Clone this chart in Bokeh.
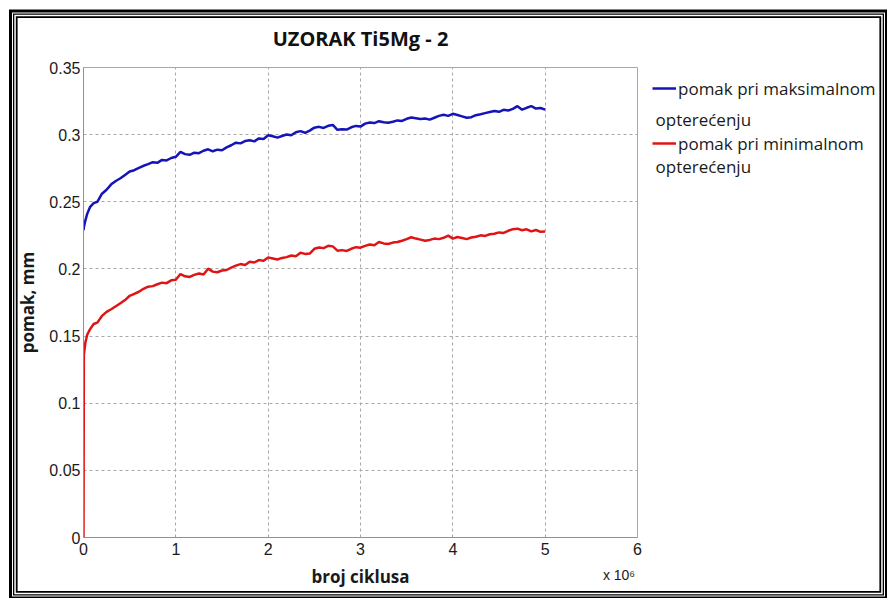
from bokeh.plotting import figure
from bokeh.layouts import row
from bokeh.models import Range1d, FixedTicker, LinearAxis, Legend, LegendItem, Label
from bokeh.embed import file_html
from bokeh.resources import INLINE

# ---------------- data ----------------
cycles_e6 = [0.0, 0.004, 0.02, 0.04, 0.07, 0.11, 0.15, 0.20, 0.25,
             0.30, 0.35, 0.40, 0.45, 0.50, 0.55, 0.60, 0.65, 0.70, 0.75,
             0.80, 0.85, 0.90, 0.95, 1.00, 1.05, 1.10, 1.15, 1.20, 1.25,
             1.30, 1.35, 1.40, 1.45, 1.50, 1.55, 1.60, 1.65, 1.70, 1.75,
             1.80, 1.85, 1.90, 1.95, 2.00, 2.05, 2.10, 2.15, 2.20, 2.25,
             2.30, 2.35, 2.40, 2.45, 2.50, 2.55, 2.60, 2.65, 2.70, 2.75,
             2.80, 2.85, 2.90, 2.95, 3.00, 3.05, 3.10, 3.15, 3.20, 3.25,
             3.30, 3.35, 3.40, 3.45, 3.50, 3.55, 3.60, 3.65, 3.70, 3.75,
             3.80, 3.85, 3.90, 3.95, 4.00, 4.05, 4.10, 4.15, 4.20, 4.25,
             4.30, 4.35, 4.40, 4.45, 4.50, 4.55, 4.60, 4.65, 4.70, 4.75,
             4.80, 4.85, 4.90, 4.95, 5.00]

pomak_max = [0.229, 0.231, 0.236, 0.241, 0.246, 0.249, 0.250, 0.256, 0.259,
             0.2630, 0.2655, 0.2675, 0.2700, 0.2725, 0.2735, 0.2752, 0.2768, 0.2780, 0.2795,
             0.2790, 0.2812, 0.2808, 0.2826, 0.2835, 0.2872, 0.2855, 0.2850, 0.2866, 0.2862,
             0.2880, 0.2891, 0.2876, 0.2888, 0.2884, 0.2905, 0.2921, 0.2940, 0.2935, 0.2952,
             0.2958, 0.2950, 0.2972, 0.2968, 0.2995, 0.2988, 0.2978, 0.2990, 0.3001, 0.2995,
             0.3018, 0.3026, 0.3014, 0.3030, 0.3052, 0.3058, 0.3050, 0.3066, 0.3072, 0.3036,
             0.3040, 0.3038, 0.3055, 0.3065, 0.3060, 0.3082, 0.3090, 0.3086, 0.3100, 0.3092,
             0.3088, 0.3096, 0.3106, 0.3102, 0.3118, 0.3128, 0.3122, 0.3116, 0.3120, 0.3112,
             0.3126, 0.3140, 0.3148, 0.3140, 0.3155, 0.3146, 0.3136, 0.3126, 0.3130, 0.3145,
             0.3152, 0.3160, 0.3168, 0.3176, 0.3170, 0.3185, 0.3180, 0.3192, 0.3212, 0.3186,
             0.3200, 0.3212, 0.3194, 0.3198, 0.3186]

pomak_min = [0.000, 0.136, 0.145, 0.151, 0.155, 0.159, 0.160, 0.165, 0.168,
             0.1700, 0.1722, 0.1745, 0.1768, 0.1800, 0.1815, 0.1830, 0.1852, 0.1868, 0.1872,
             0.1886, 0.1898, 0.1894, 0.1915, 0.1920, 0.1962, 0.1945, 0.1940, 0.1956, 0.1966,
             0.1958, 0.2002, 0.1980, 0.1975, 0.1988, 0.1992, 0.2010, 0.2025, 0.2036, 0.2030,
             0.2054, 0.2048, 0.2066, 0.2060, 0.2086, 0.2078, 0.2070, 0.2082, 0.2088, 0.2100,
             0.2094, 0.2120, 0.2112, 0.2114, 0.2150, 0.2160, 0.2155, 0.2172, 0.2168, 0.2136,
             0.2140, 0.2134, 0.2150, 0.2162, 0.2158, 0.2172, 0.2182, 0.2176, 0.2200, 0.2190,
             0.2186, 0.2196, 0.2200, 0.2210, 0.2222, 0.2236, 0.2226, 0.2218, 0.2210, 0.2216,
             0.2226, 0.2222, 0.2232, 0.2248, 0.2226, 0.2238, 0.2230, 0.2222, 0.2234, 0.2240,
             0.2250, 0.2246, 0.2258, 0.2262, 0.2272, 0.2268, 0.2284, 0.2296, 0.2300, 0.2288,
             0.2295, 0.2280, 0.2290, 0.2276, 0.2278]

x_ticks = [0, 1, 2, 3, 4, 5, 6]
x_tick_labels = ["0", "1", "2", "3", "4", "5", "6"]
y_ticks = [0, 0.05, 0.1, 0.15, 0.2, 0.25, 0.3, 0.35]
y_tick_labels = ["0", "0.05", "0.1", "0.15", "0.2", "0.25", "0.3", "0.35"]
x_multiplier_at = 5.8
x_multiplier_text = "x 10\u2076"

title_text = "UZORAK Ti5Mg - 2"
x_label = "broj ciklusa"
y_label = "pomak, mm"
legend_max = ["pomak pri maksimalnom", "opterećenju"]
legend_min = ["pomak pri minimalnom", "opterećenju"]

BLUE = "#1414b8"
RED = "#e01414"
TXT = "#1a1a1a"

# ---------------- main chart ----------------
p = figure(width=649, height=598, output_backend="svg", toolbar_location=None,
           x_range=Range1d(0, 6), y_range=Range1d(0, 0.35),
           min_border_left=83, min_border_right=12,
           min_border_top=67, min_border_bottom=61)
p.background_fill_color = "white"
p.border_fill_alpha = 0
p.outline_line_color = "#a8a8a8"
p.outline_line_width = 1

p.line(cycles_e6, pomak_max, line_color=BLUE, line_width=2.5)
p.line(cycles_e6, pomak_min, line_color=RED, line_width=2.5)

for ax in (p.xaxis[0], p.yaxis[0]):
    ax.axis_line_color = "#909090"
    ax.major_tick_in = 0
    ax.major_tick_out = 0
    ax.minor_tick_in = 0
    ax.minor_tick_out = 0
    ax.major_label_text_font = "Liberation Sans"
    ax.major_label_text_font_size = "16px"
    ax.major_label_text_color = TXT
    ax.axis_label_text_font = "Open Sans"
    ax.axis_label_text_font_style = "bold"
    ax.axis_label_text_font_size = "17px"
    ax.axis_label_text_color = TXT

p.xaxis[0].ticker = FixedTicker(ticks=x_ticks)
p.xaxis[0].major_label_overrides = {t: l for t, l in zip(x_ticks, x_tick_labels)}
p.yaxis[0].ticker = FixedTicker(ticks=y_ticks)
p.yaxis[0].major_label_overrides = {t: l for t, l in zip(y_ticks, y_tick_labels)}
p.xaxis[0].axis_label = x_label
p.yaxis[0].axis_label = y_label
p.xaxis[0].major_label_standoff = 5
p.xaxis[0].axis_label_standoff = 7
p.yaxis[0].major_label_standoff = 3
p.yaxis[0].axis_label_standoff = 7

# the "x 10^6" multiplier, as the single label of a bare second axis below
mult_axis = LinearAxis(ticker=FixedTicker(ticks=[x_multiplier_at]),
                       major_label_overrides={x_multiplier_at: x_multiplier_text},
                       axis_line_alpha=0, major_tick_in=0, major_tick_out=0,
                       minor_tick_in=0, minor_tick_out=0,
                       major_label_standoff=-24,
                       major_label_text_font="Liberation Sans",
                       major_label_text_font_size="14px",
                       major_label_text_color=TXT)
p.add_layout(mult_axis, "below")

# an invisible axis above the frame (one hidden tick): keeps the title a little higher
gap_tick = 3
gap_axis = LinearAxis(ticker=FixedTicker(ticks=[gap_tick]),
                      major_label_overrides={gap_tick: ""},
                      axis_line_alpha=0, major_tick_in=0, major_tick_out=11,
                      major_tick_line_alpha=0, minor_tick_in=0, minor_tick_out=0,
                      major_label_standoff=0, major_label_text_font_size="1px",
                      major_label_text_alpha=0)
p.add_layout(gap_axis, "above")

p.xgrid.grid_line_color = "#a8a8a8"
p.xgrid.grid_line_dash = "3 3"
p.ygrid.grid_line_color = "#a8a8a8"
p.ygrid.grid_line_dash = "3 3"

p.title.text = title_text
p.title.align = "center"
p.title.text_font = "Open Sans"
p.title.text_font_style = "bold"
p.title.text_font_size = "20px"
p.title.text_color = "#111111"

# ---------------- legend panel ----------------
q = figure(width=238, height=598, output_backend="svg", toolbar_location=None,
           x_range=Range1d(0, 1), y_range=Range1d(1, 2),   # series lie out of view here
           x_axis_location=None, y_axis_location=None,
           min_border_left=0, min_border_top=67, min_border_right=0, min_border_bottom=61)
q.grid.visible = False
q.outline_line_color = None
q.background_fill_alpha = 0
q.border_fill_alpha = 0

g_max = q.line(cycles_e6, pomak_max, line_color=BLUE, line_width=2.5)
g_min = q.line(cycles_e6, pomak_min, line_color=RED, line_width=2.5)
legend = Legend(items=[LegendItem(label=legend_max[0], renderers=[g_max]),
                       LegendItem(label=legend_min[0], renderers=[g_min])],
                location="top_left", margin=3, padding=0, spacing=19,
                glyph_width=24, glyph_height=36, label_height=36, label_standoff=2,
                label_text_font="Open Sans", label_text_font_size="17px",
                label_text_color=TXT, border_line_alpha=0, background_fill_alpha=0)
q.add_layout(legend)
# second lines of the two legend entries (frame bottom of q is at 537 px)
for ly, txt in ((537 - 119, legend_max[1]), (537 - 166, legend_min[1])):
    q.add_layout(Label(x=6, y=ly, x_units="screen", y_units="screen", text=txt,
                       text_font="Open Sans", text_font_size="17px",
                       text_align="left", text_baseline="middle", text_color=TXT))

# triple black frame around the whole picture (inset shadows of the row element)
frame_css = ", ".join(f"inset 5px 5.5px 0 {s}px {c}" for s, c in
                      ((4, "white"), (7, "black"), (8, "white"),
                       (9.3, "black"), (10.8, "white"), (12.6, "black")))
layout = row(p, q, styles={"background-color": "white", "box-shadow": frame_css})

open("out.html", "w").write(file_html(layout, INLINE))
